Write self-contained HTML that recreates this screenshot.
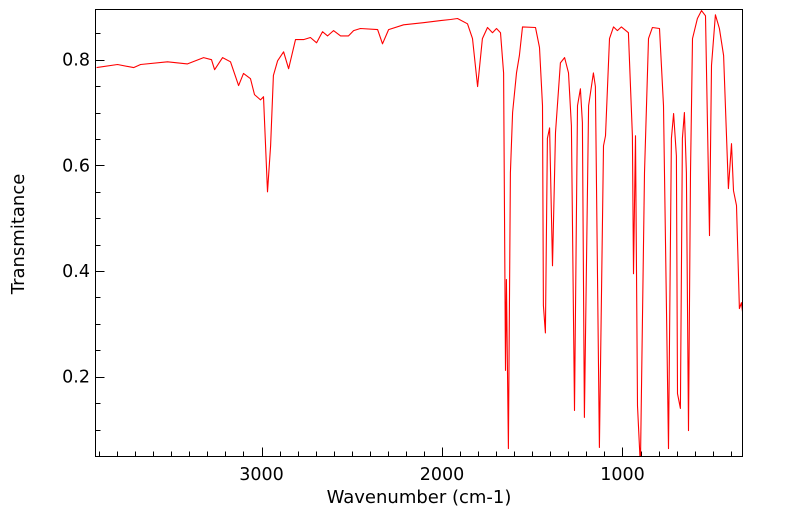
<!DOCTYPE html>
<html><head><meta charset="utf-8"><style>
html,body{margin:0;padding:0;background:#fff;}
svg{display:block;font-family:"DejaVu Sans","Liberation Sans",sans-serif;}
</style></head><body>
<svg id="chart" width="799" height="516">
<defs><clipPath id="clip"><rect x="95" y="9" width="647" height="447"/></clipPath></defs>
<g id="axes"></g>
<path id="line" fill="none" stroke="#ff0000" stroke-width="1.1" stroke-linejoin="round" clip-path="url(#clip)"/>
<rect x="95.5" y="9.5" width="647" height="447" fill="none" stroke="#000" stroke-width="1"/>
<text x="419" y="503" text-anchor="middle" font-size="18">Wavenumber (cm-1)</text>
<text transform="translate(24,234) rotate(-90)" text-anchor="middle" font-size="18">Transmitance</text>
</svg>
<script>
const wavenumbers = [3914,3798,3709,3670,3521,3410,3321,3277,3260,3216,3172,3127,3100,3061,3039,3006,2989,2967,2950,2934,2911,2878,2850,2812,2767,2729,2695,2662,2634,2601,2562,2518,2490,2452,2357,2330,2296,2213,2103,2008,1953,1914,1859,1831,1803,1776,1748,1720,1698,1676,1659,1648,1643,1632,1621,1609,1587,1571,1554,1482,1460,1443,1438,1427,1416,1404,1388,1371,1344,1321,1299,1283,1266,1249,1233,1222,1211,1188,1161,1150,1128,1105,1094,1072,1050,1028,1006,967,945,939,928,917,901,878,856,834,795,773,745,729,717,701,695,679,668,657,646,634,623,612,585,562,540,518,507,485,463,440,413,396,385,368,352,341,330];
const transmittance = [0.785,0.791,0.785,0.791,0.796,0.792,0.804,0.800,0.781,0.804,0.796,0.751,0.774,0.764,0.734,0.724,0.730,0.550,0.637,0.770,0.798,0.815,0.783,0.838,0.838,0.842,0.832,0.853,0.845,0.855,0.845,0.845,0.855,0.859,0.857,0.830,0.857,0.866,0.870,0.874,0.876,0.878,0.868,0.840,0.749,0.840,0.861,0.851,0.859,0.851,0.775,0.212,0.384,0.064,0.586,0.700,0.775,0.808,0.862,0.861,0.823,0.713,0.335,0.283,0.651,0.671,0.410,0.662,0.794,0.804,0.775,0.675,0.136,0.713,0.745,0.681,0.123,0.713,0.775,0.749,0.066,0.637,0.656,0.840,0.862,0.855,0.862,0.851,0.656,0.395,0.656,0.145,0.030,0.586,0.840,0.861,0.859,0.713,0.064,0.651,0.698,0.618,0.168,0.140,0.651,0.700,0.586,0.098,0.586,0.840,0.878,0.893,0.883,0.467,0.789,0.885,0.859,0.808,0.556,0.641,0.552,0.524,0.329,0.340,0.310];
const xTickValues = [1000,2000,3000];
const xTickLabels = ["1000","2000","3000"];
const yTickValues = [0.2,0.4,0.6,0.8];
const yTickLabels = ["0.2","0.4","0.6","0.8"];
const xDomain = [3920,335], yDomain = [0.049,0.895];
const L=95.5,R=742.5,T=9.5,B=456.5;
function xs(w){return L+(w-xDomain[0])/(xDomain[1]-xDomain[0])*(R-L);}
function ys(v){return B-(v-yDomain[0])/(yDomain[1]-yDomain[0])*(B-T);}
const NS="http://www.w3.org/2000/svg";
const ax=document.getElementById('axes');
let d="";
for(let i=0;i<wavenumbers.length;i++){d+=(i?"L":"M")+xs(wavenumbers[i]).toFixed(1)+" "+ys(transmittance[i]).toFixed(1);}
document.getElementById('line').setAttribute('d',d);
function line(x1,y1,x2,y2,name){const l=document.createElementNS(NS,'line');
l.setAttribute('x1',x1);l.setAttribute('y1',y1);l.setAttribute('x2',x2);l.setAttribute('y2',y2);
l.setAttribute('stroke','#000');l.setAttribute('stroke-width','1');


ax.appendChild(l);}
for(let w=3900;w>=400;w-=100){const x=Math.round(xs(w))+0.5;const major=w%1000===0;line(x,B,x,B-(major?9:5),'x-tick');}
for(let k=1;k<=17;k++){const v=k*0.05;if(v<yDomain[0]||v>yDomain[1])continue;const y=Math.round(ys(v))+0.5;const major=(k%4===0);line(L,y,L+(major?9:5),y,'y-tick');}
function text(x,y,s,anchor,name){const t=document.createElementNS(NS,'text');
t.setAttribute('x',x);t.setAttribute('y',y);t.setAttribute('text-anchor',anchor);t.setAttribute('font-size','17.5');t.textContent=s;


ax.appendChild(t);}
xTickValues.forEach((v,i)=>text(xs(v),480,xTickLabels[i],'middle','x-tick-label'));
yTickValues.forEach((v,i)=>text(90,ys(v)+6,yTickLabels[i],'end','y-tick-label'));
</script>
</body></html>
